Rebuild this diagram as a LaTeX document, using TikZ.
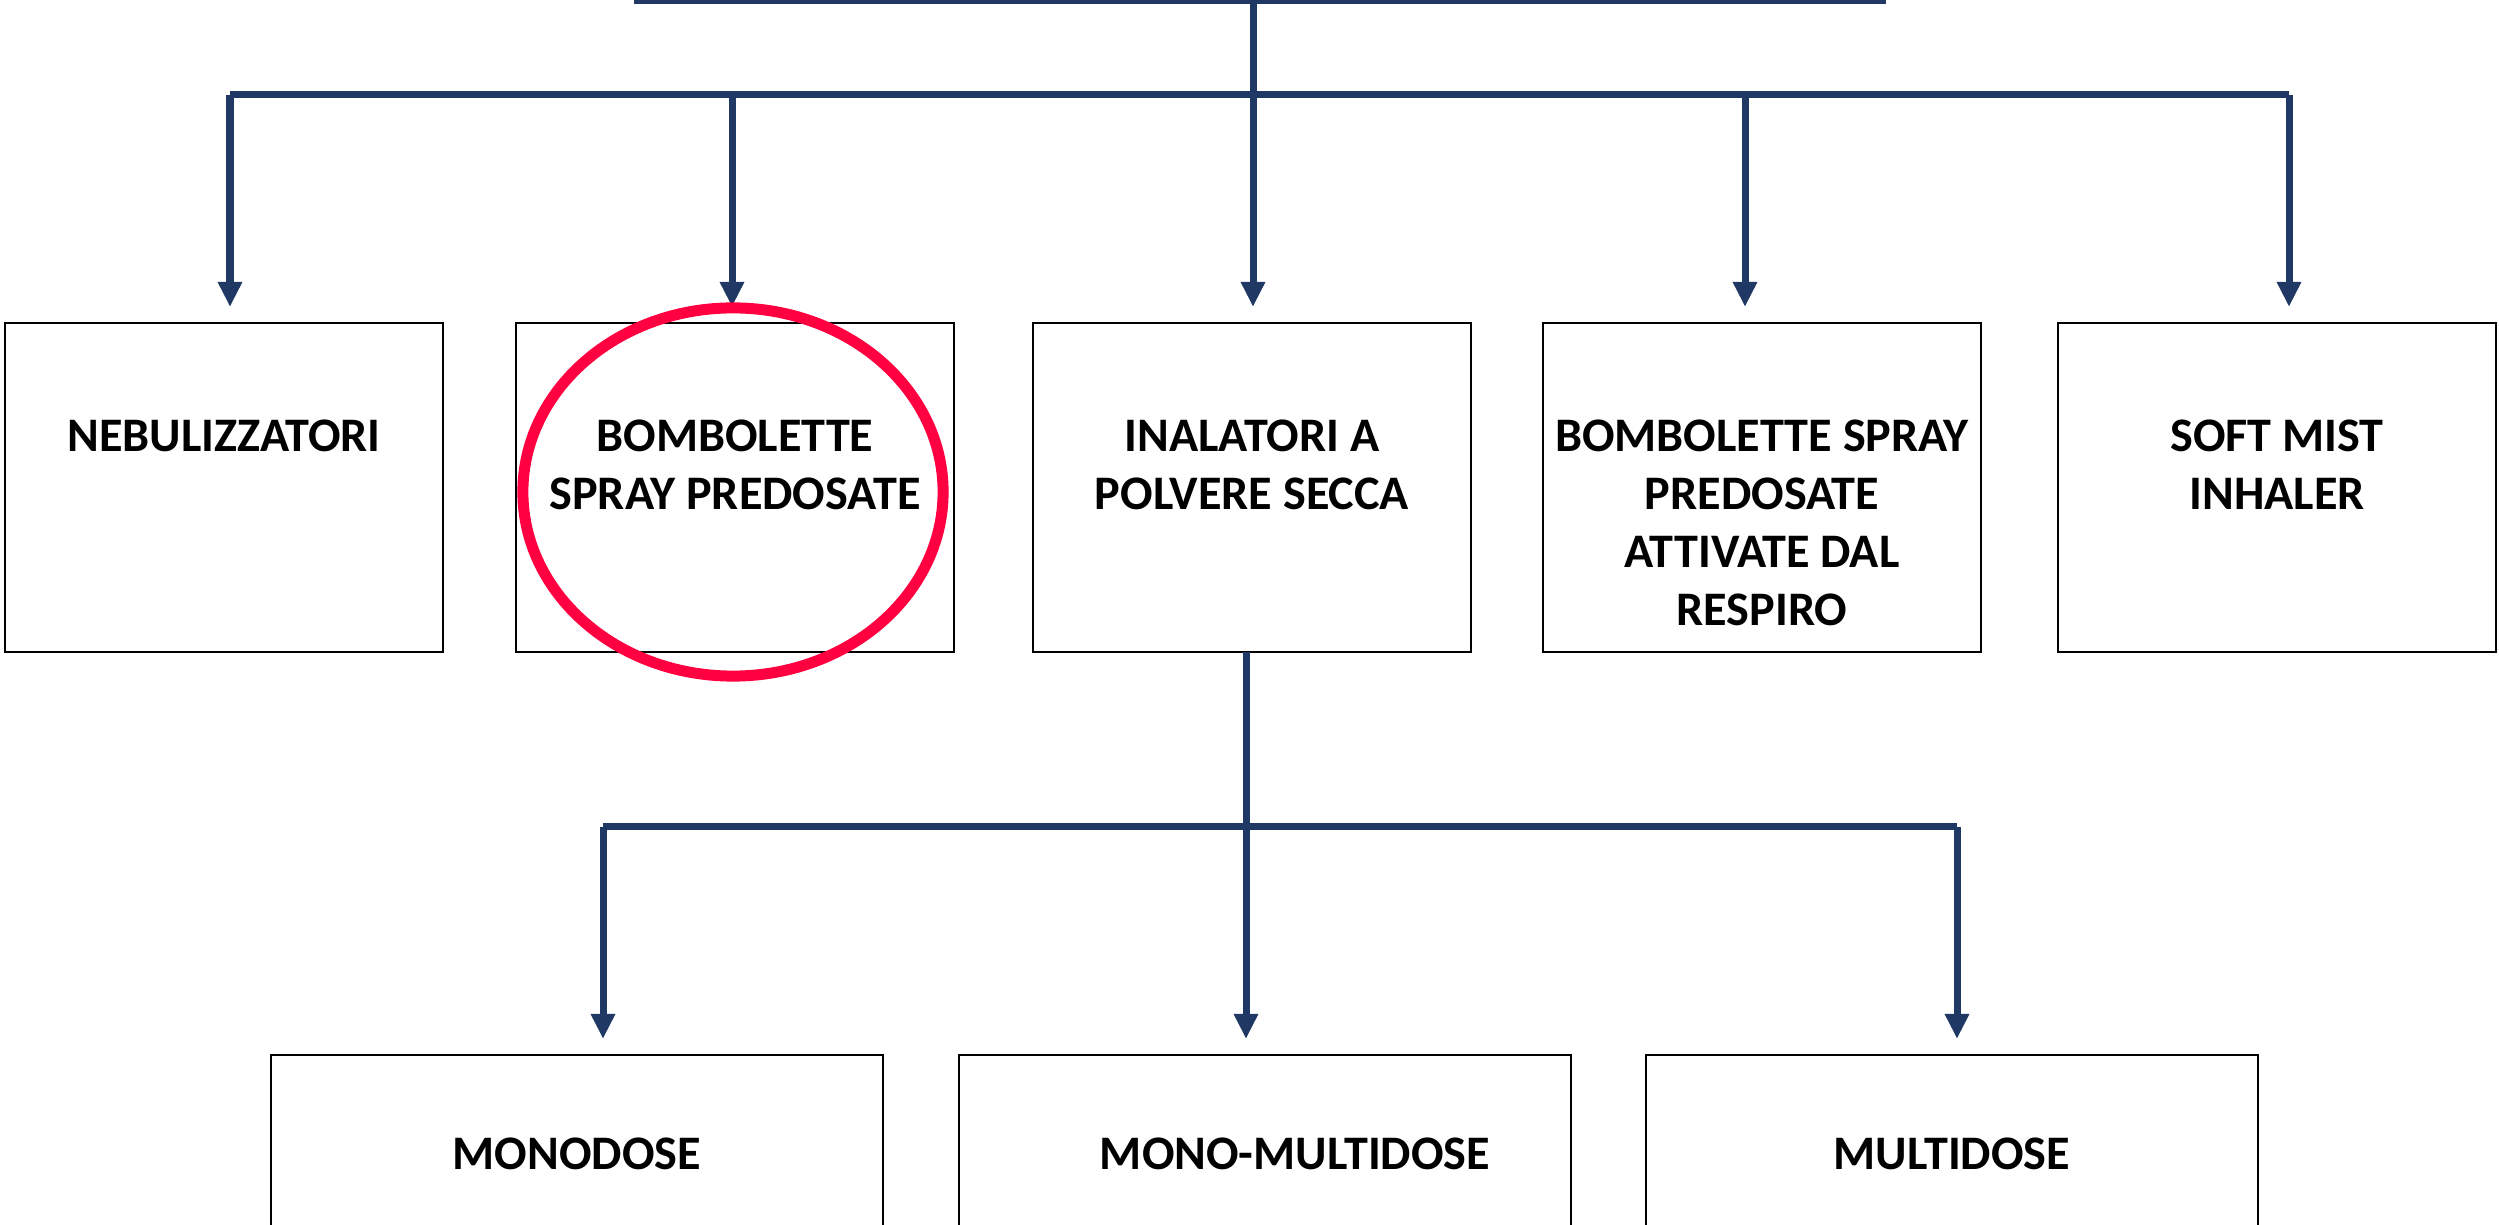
\documentclass[tikz,border=0pt]{standalone}
\usepackage{fontspec}
\setmainfont{Carlito}
\usepackage{xcolor}
\usepackage{tikz}
\usetikzlibrary{arrows.meta}
\usetikzlibrary{calc}
\usetikzlibrary{positioning}

\definecolor{linkblue}{RGB}{32,56,100}
\definecolor{ringred}{RGB}{255,0,64}

\begin{document}
\begin{tikzpicture}[x=0.01cm, y=-0.01cm,
    link/.style={draw=linkblue, line width=0.07cm},
    tipped/.style={link, -{Triangle[length=0.25cm, width=0.23cm]},
      shorten >=0.16cm},
    kind/.style={draw, line width=0.7pt, inner sep=0pt, outer sep=0pt,
      minimum height=3.29cm},
    kindtext/.style={font=\fontsize{13.7pt}{16.5pt}\selectfont\bfseries,
      align=center, inner sep=0pt, anchor=north}]

    \clip (0, 0) rectangle (2499, 1225);

    \def\busy{95}
    \def\forky{827}

    \coordinate (rootL) at (634, 1);
    \coordinate (rootR) at (1886, 1);
    \coordinate (root) at (1253, 1);
    \coordinate (hub) at (1253, \busy);
    \coordinate (busL) at (230, \busy);
    \coordinate (busR) at (2289, \busy);

    \draw [link] (rootL) -- (rootR); % bottom edge of the cut-off box
    \draw [link] (root) -- (hub);
    \draw [link] (busL) -- (busR); % first bus

    % first row: name / box centre / arrow x / text
    \foreach \name/\x/\ax/\txt in {
      nebu/224/230/{NEBULIZZATORI},
      spray/735/732/{BOMBOLETTE\\SPRAY PREDOSATE},
      dpi/1252/1253/{INALATORI A\\POLVERE SECCA},
      breath/1762/1745/{BOMBOLETTE SPRAY\\PREDOSATE\\ATTIVATE DAL\\RESPIRO},
      mist/2277/2289/{SOFT MIST\\INHALER}} {
      \node [kind, minimum width=4.38cm] (\name) at (\x, 487.5) {};
      \node [kindtext, below=0.96cm of \name.north] (\name-txt) {\txt};
      \coordinate (\name-in) at (\ax, \busy);
      \draw [tipped] (\name-in) -- (\name-in |- \name.north);
    }

    % second row
    \foreach \name/\x/\ax/\tx/\txt in {
      mono/577/603/0/{MONODOSE},
      mmulti/1265/1253/0.3/{MONO-MULTIDOSE},
      multi/1952/1957/0/{MULTIDOSE}} {
      \node [kind, minimum width=6.12cm] (\name) at (\x, 1219.5) {};
      \node [kindtext, below=0.82cm of \name.north, xshift=\tx cm]
        (\name-txt) {\txt};
    }

    \coordinate (mono-in) at (603, \forky);
    \coordinate (multi-in) at (1957, \forky);
    \draw [link] (mono-in) -- (multi-in); % second bus
    \draw [tipped] ([xshift=-0.06cm]dpi.south)
      -- ([xshift=-0.06cm]dpi.south |- mmulti.north);
    \draw [tipped] (mono-in) -- (mono-in |- mono.north);
    \draw [tipped] (multi-in) -- (multi-in |- multi.north);

    % highlight ring
    \draw [ringred, line width=0.11cm] (733, 492)
      ellipse [x radius=2.1cm, y radius=1.84cm];

\end{tikzpicture}
\end{document}
